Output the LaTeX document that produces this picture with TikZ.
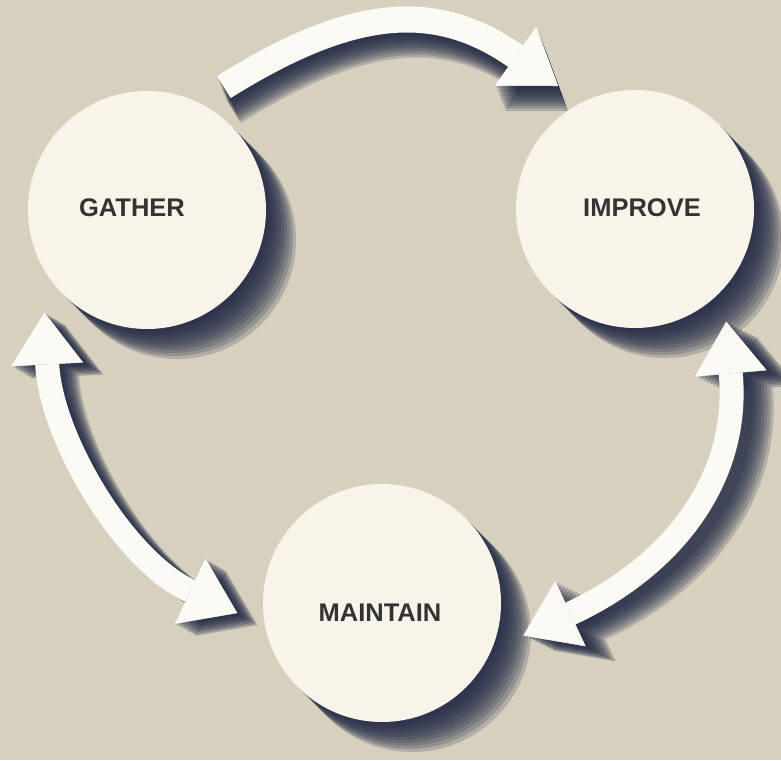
\documentclass[tikz,border=0pt]{standalone}
\usepackage{fontspec}
\setmainfont{Liberation Sans}
\usetikzlibrary{arrows.meta, positioning}

\definecolor{paper}{HTML}{D7D0BF}
\definecolor{disc}{HTML}{F8F4E9}
\definecolor{flowwhite}{HTML}{FBFAF5}
\definecolor{ink}{HTML}{1B2540}
\definecolor{txtgray}{HTML}{333333}

\pgfdeclarelayer{paperlayer}
\pgfdeclarelayer{shadow}
\pgfsetlayers{paperlayer,shadow,main}

\tikzset{
  stage/.style={circle, fill=disc, minimum size=238pt, inner sep=0pt, outer sep=26pt},
  stagetext/.style={font=\fontsize{25.5}{30}\selectfont\bfseries, text=txtgray},
  bighead/.tip={Triangle[length=52pt, width=72pt, line width=.5pt]},
  flow/.style={line width=26pt, draw=flowwhite, -bighead},
  flowboth/.style={line width=24pt, draw=flowwhite, bighead-bighead},
}

\begin{document}
\begin{tikzpicture}[x=1pt, y=1pt]
    \begin{pgfonlayer}{paperlayer}
        \fill[paper] (0,0) rectangle (781,760);
    \end{pgfonlayer}
    \useasboundingbox (0,0) rectangle (781,760);

    \node[stage, label={[stagetext, xshift=-15pt, yshift=2pt]center:GATHER}] (gather) at (147,550) {};
    \node[stage, label={[stagetext, xshift=7pt, yshift=1pt]center:IMPROVE}] (improve) at (635,551) {};
    \node[stage, label={[stagetext, xshift=-2pt, yshift=-10pt]center:MAINTAIN}] (maintain) at (382,157) {};

    % shadows
    \begin{pgfonlayer}{shadow}
        \foreach \n in {gather,improve,maintain}
            \foreach \k in {1,...,10}
                \fill[ink, opacity=.2] ([shift={(3*\k,-3*\k)}]\n.center) circle (119);
        \foreach \k in {1,...,10} {
            \begin{scope}[transform canvas={shift={(1*\k,-2.5*\k)}}, opacity=.2]
                \draw[flow, draw=ink] (gather.58) to[out=32, in=145, looseness=1.15] (improve.122);
            \end{scope}
            \begin{scope}[transform canvas={shift={(2*\k,-1.2*\k)}}, opacity=.2]
                \draw[flowboth, draw=ink] (gather.225) to[out=273, in=155, looseness=.9] (maintain.184);
            \end{scope}
            \begin{scope}[transform canvas={shift={(3*\k,-1.5*\k)}}, opacity=.2]
                \draw[flowboth, draw=ink] (improve.309) to[out=275, in=25, looseness=1.1] (maintain.347);
            \end{scope}
        }
    \end{pgfonlayer}

    \draw[flow] (gather.58) to[out=32, in=145, looseness=1.15] (improve.122);
    \draw[flowboth] (gather.225) to[out=273, in=155, looseness=.9] (maintain.184);
    \draw[flowboth] (improve.309) to[out=275, in=25, looseness=1.1] (maintain.347);
\end{tikzpicture}
\end{document}
